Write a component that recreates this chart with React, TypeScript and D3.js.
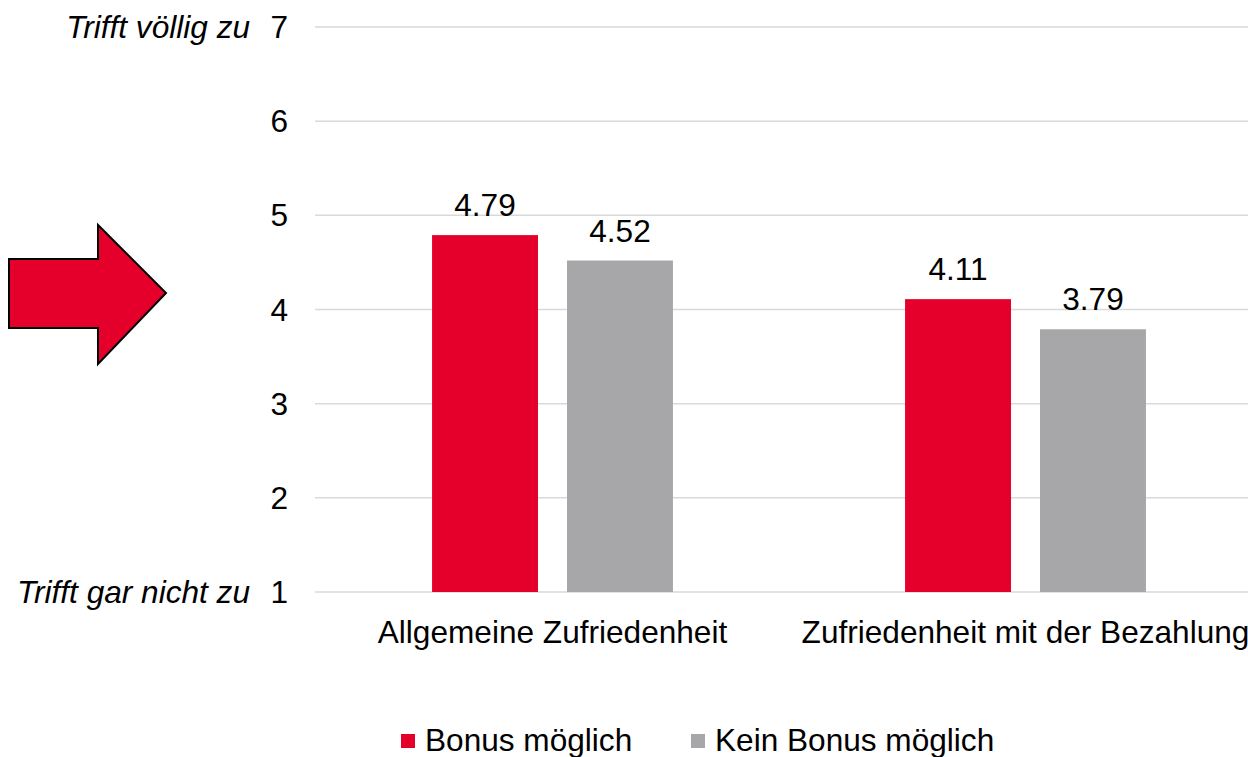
import React from "react";
import * as d3 from "d3";

const categories = ["Allgemeine Zufriedenheit", "Zufriedenheit mit der Bezahlung"];
const seriesNames = ["Bonus möglich", "Kein Bonus möglich"];
const bonusValues = [4.79, 4.11];
const noBonusValues = [4.52, 3.79];
const yTicks = [1, 2, 3, 4, 5, 6, 7];
const yEndLabels: [number, string][] = [[7, "Trifft völlig zu"], [1, "Trifft gar nicht zu"]];
const colors = ["#E4002B", "#A7A6A8"];

export default function App() {
  const W = 1248, H = 757;
  const x0 = 316, x1 = 1262;
  const y = d3.scaleLinear().domain([1, 7]).range([592, 27]);
  const xBand = d3.scaleBand().domain(categories).range([x0, x1]).paddingInner(0).paddingOuter(0);
  const xInner = d3.scaleBand().domain(seriesNames).range([0, xBand.bandwidth()]).paddingInner(0.215).paddingOuter(0.86);
  const series = [bonusValues, noBonusValues];
  const font = "'Liberation Sans', Arial, sans-serif";
  const fs = 31.6;
  return (
    <svg width={W} height={H} style={{ position: "absolute", left: 0, top: 0 }} fontFamily={font}>
      {yTicks.map((t) => (
        <g key={t}>
          <line x1={315} x2={W} y1={y(t)} y2={y(t)} stroke="#D9D9D9" strokeWidth={1.5} />
          <text x={288} y={y(t)} dy="0.35em" textAnchor="end" fontSize={fs} fill="#000">{t}</text>
        </g>
      ))}
      {yEndLabels.map(([v, l]) => (
        <text key={l} x={250} y={y(v)} dy="0.35em" textAnchor="end" fontSize={fs} fontStyle="italic" fill="#000">{l}</text>
      ))}
      {categories.map((c, ci) => (
        <g key={c} transform={`translate(${xBand(c)},0)`}>
          {seriesNames.map((s, si) => {
            const v = series[si][ci];
            const bx = xInner(s)!;
            return (
              <g key={s}>
                <rect x={bx} y={y(v)} width={xInner.bandwidth()} height={y(1) - y(v)} fill={colors[si]} />
                <text x={bx + xInner.bandwidth() / 2} y={y(v) - 19} textAnchor="middle" fontSize={fs} fill="#000">{v.toFixed(2)}</text>
              </g>
            );
          })}
          <text x={xBand.bandwidth() / 2} y={643} textAnchor="middle" fontSize={fs} fill="#000">{c}</text>
        </g>
      ))}
      {/* arrow */}
      <polygon points="9,259 98,259 98,225 166,293 98,364 98,328 9,328" fill="#E4002B" stroke="#000" strokeWidth={2} />
      {/* legend */}
      {seriesNames.map((s, i) => {
        const lx = i === 0 ? 401 : 691;
        return (
          <g key={s}>
            <rect x={lx} y={734} width={14} height={14} fill={colors[i]} />
            <text x={lx + 24} y={751} fontSize={fs} fill="#000">{s}</text>
          </g>
        );
      })}
    </svg>
  );
}
